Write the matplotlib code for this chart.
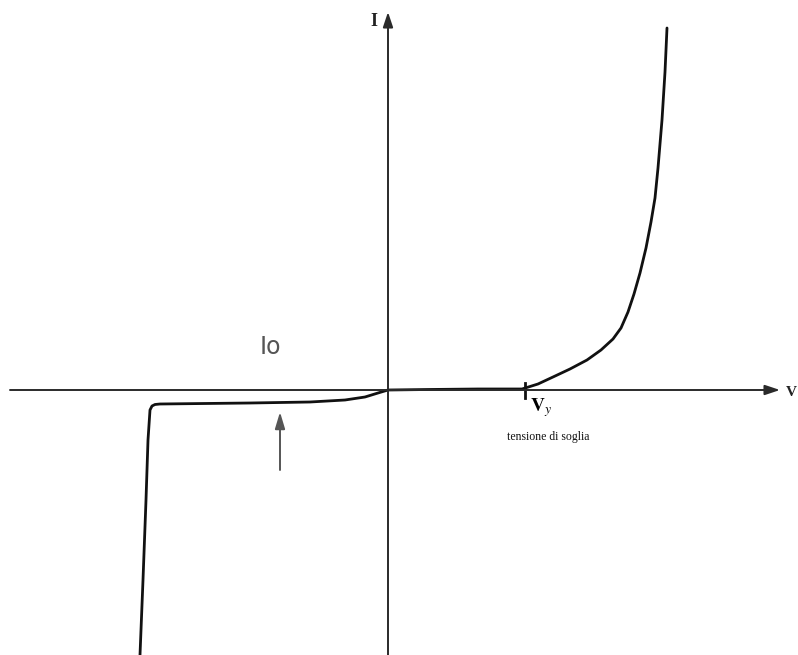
import matplotlib
matplotlib.use("Agg")
import matplotlib.pyplot as plt

# Diode I-V characteristic (arbitrary units, origin at the crossing of the axes)
forward_v = [0, 40, 90, 134, 150, 165, 182, 199, 213, 225, 233, 240, 246, 252, 258, 263, 267, 270, 274, 277, 279]
forward_i = [0, 0.5, 1, 1, 6, 13, 21, 30, 40, 51, 62, 78, 96, 117, 142, 168, 192, 222, 270, 318, 362]

reverse_v = [0, -10, -23, -43, -78, -138, -228, -233, -236, -238, -240, -242, -245, -248]
reverse_i = [0, -3, -7, -10, -12, -13, -14, -14.5, -16, -20, -50, -110, -190, -265]

threshold_v = 137
axis_v = (-378, 392)
axis_i = (-265, 378)

fig = plt.figure(figsize=(7.98, 6.55), dpi=100)
ax = fig.add_axes([0, 0, 1, 1])
ax.set_xlim(-388, 410)
ax.set_ylim(-265, 390)
ax.axis("off")

axis_color = "#2a2a2a"
# Axes with arrowheads
ax.annotate("", xy=(axis_v[1], 0), xytext=(axis_v[0], 0),
            arrowprops=dict(arrowstyle="-|>,head_length=0.9,head_width=0.3",
                            color=axis_color, lw=1.4, shrinkA=0, shrinkB=0))
ax.annotate("", xy=(0, axis_i[1]), xytext=(0, axis_i[0]),
            arrowprops=dict(arrowstyle="-|>,head_length=0.9,head_width=0.3",
                            color=axis_color, lw=1.4, shrinkA=0, shrinkB=0))

# Characteristic curve
ax.plot(forward_v, forward_i, color="#111111", lw=2.0,
        solid_capstyle="round", solid_joinstyle="round")
ax.plot(reverse_v, reverse_i, color="#111111", lw=2.0,
        solid_capstyle="round", solid_joinstyle="round")

# Threshold tick
ax.plot([threshold_v, threshold_v], [-8, 7], color="#111111", lw=2.0)

# Labels
ax.text(-14, 368, "I", fontsize=13, fontweight="bold", family="Liberation Serif",
        color="#222222", ha="center", va="center")
ax.text(398, -3, "V", fontsize=11, fontweight="bold", family="Liberation Serif",
        color="#222222", ha="left", va="center")
ax.text(threshold_v + 5, -18, r"$\mathbf{V}_{y}$", fontsize=14,
        family="Liberation Serif", ha="left", va="center",
        math_fontfamily="stix")
ax.text(threshold_v + 23, -47, "tensione di soglia", fontsize=8.5,
        family="Liberation Serif", ha="center", va="center", color="#111111")
ax.text(-118, 43, "Io", fontsize=17, family="DejaVu Sans", color="#555555",
        ha="center", va="center")

# Arrow pointing to the saturation current
ax.annotate("", xy=(-108, -22), xytext=(-108, -80),
            arrowprops=dict(arrowstyle="-|>,head_length=1.0,head_width=0.3",
                            color="#555555", lw=1.4, shrinkA=0, shrinkB=0))

fig.savefig("out.png", dpi=100, facecolor="white")
